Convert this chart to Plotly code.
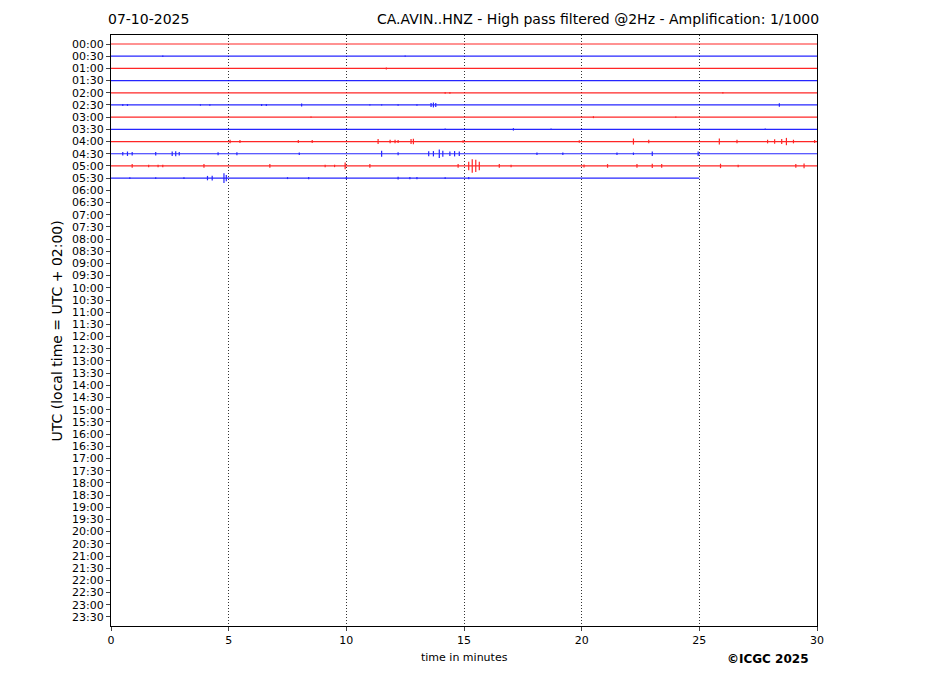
import plotly.graph_objects as go

# ---- data ----
row_labels = [f"{h:02d}:{m:02d}" for h in range(24) for m in (0, 30)]
row_colors = ["red" if i % 2 == 0 else "blue" for i in range(48)]
row_end = [30, 30, 30, 30, 30, 30, 30, 30, 30, 30, 30, 25.0]  # minutes recorded per row

# bursts per row: (minute, half amplitude in row units)
bursts = [
    [],
    [(2.2, 0.06), (12.5, 0.05)],
    [(11.7, 0.08)],
    [],
    [(14.2, 0.07), (14.4, 0.07), (26.0, 0.06)],
    [(0.5, 0.08), (0.7, 0.08), (3.8, 0.06), (4.2, 0.06), (6.4, 0.08), (6.6, 0.08), (8.1, 0.12),
     (11.0, 0.05), (11.5, 0.05), (12.2, 0.06), (13.0, 0.06), (13.6, 0.16), (13.7, 0.2),
     (13.8, 0.16), (28.4, 0.15)],
    [(8.5, 0.05), (20.5, 0.08), (24.0, 0.05)],
    [(14.2, 0.06), (17.1, 0.1), (18.7, 0.06), (27.8, 0.06)],
    [(5.06, 0.15), (5.48, 0.12), (7.96, 0.12), (8.55, 0.12), (11.35, 0.2), (11.86, 0.15),
     (12.07, 0.15), (12.2, 0.12), (12.75, 0.2), (12.85, 0.22), (14.96, 0.1), (19.9, 0.1),
     (22.2, 0.25), (22.85, 0.15), (25.85, 0.25), (26.6, 0.15), (27.9, 0.15), (28.2, 0.18),
     (28.5, 0.2), (28.7, 0.3), (29.0, 0.15), (29.9, 0.12)],
    [(0.5, 0.15), (0.7, 0.18), (0.9, 0.15), (1.9, 0.15), (2.6, 0.18), (2.75, 0.2), (2.9, 0.15),
     (4.55, 0.12), (5.35, 0.12), (8.0, 0.1), (11.5, 0.25), (12.2, 0.12), (13.5, 0.2),
     (13.7, 0.22), (13.95, 0.35), (14.1, 0.25), (14.4, 0.18), (14.6, 0.22), (14.8, 0.18),
     (18.1, 0.1), (19.2, 0.1), (21.5, 0.1), (22.2, 0.1), (23.0, 0.18), (24.95, 0.18)],
    [(0.9, 0.15), (1.6, 0.1), (2.0, 0.1), (2.2, 0.1), (3.95, 0.15), (6.75, 0.15), (9.1, 0.1),
     (9.5, 0.1), (9.95, 0.28), (11.0, 0.15), (14.75, 0.15), (15.2, 0.35), (15.35, 0.55),
     (15.5, 0.5), (15.65, 0.35), (16.5, 0.15), (17.0, 0.1), (20.1, 0.12), (21.1, 0.15),
     (22.35, 0.15), (23.0, 0.18), (23.4, 0.15), (25.9, 0.18), (26.65, 0.1), (29.1, 0.15),
     (29.45, 0.2)],
    [(0.8, 0.08), (1.9, 0.08), (3.1, 0.08), (4.1, 0.18), (4.3, 0.2), (4.8, 0.4), (4.9, 0.25),
     (7.5, 0.08), (8.4, 0.1), (10.0, 0.1), (12.2, 0.12), (12.7, 0.1), (13.0, 0.1), (14.2, 0.08),
     (15.2, 0.1)],
]
x_ticks = [0, 5, 10, 15, 20, 25, 30]

fig = go.Figure()
for r, end in enumerate(row_end):
    col = "#ff0000" if row_colors[r] == "red" else "#0000ff"
    xs, ys = [0, end, None], [r, r, None]
    for t, a in bursts[r]:
        xs += [t, t, None]
        ys += [r - a, r + a, None]
    fig.add_trace(go.Scatter(x=xs, y=ys, mode="lines", line=dict(color=col, width=1.2),
                             opacity=0.85, hoverinfo="skip", showlegend=False))

fig.update_layout(
    width=927, height=696,
    margin=dict(l=103, r=118, t=27, b=78),
    paper_bgcolor="white", plot_bgcolor="white",
    font=dict(family="DejaVu Sans", color="black", size=11),
    xaxis=dict(range=[0, 30], tickvals=x_ticks, ticks="outside", ticklen=4,
               showgrid=True, gridcolor="#333", griddash="1px,2px", gridwidth=0.8,
               showline=True, linecolor="black", linewidth=1, mirror=True, zeroline=False,
               tickfont=dict(size=11)),
    yaxis=dict(range=[47.74, -0.74], tickvals=list(range(48)), ticktext=row_labels,
               ticks="outside", ticklen=4, showgrid=False, zeroline=False,
               showline=True, linecolor="black", linewidth=1, mirror=True,
               tickfont=dict(size=11)),
)

ann = [
    dict(text="07-10-2025", x=0, xanchor="left", xshift=-5, y=1, yanchor="bottom", yshift=6, size=14),
    dict(text="CA.AVIN..HNZ - High pass filtered @2Hz - Amplification: 1/1000", x=1, xanchor="right", xshift=4,
         y=1, yanchor="bottom", yshift=6, size=14),
    dict(text="time in minutes", x=0.5, xanchor="center", y=0, yanchor="top", yshift=-23, size=11),
    dict(text="<b>©ICGC 2025</b>", x=0.9915, xanchor="right", y=0, yanchor="top", yshift=-24, size=12),
]
for a in ann:
    fig.add_annotation(text=a["text"], xref="paper", yref="paper", x=a["x"], y=a["y"],
                       xanchor=a["xanchor"], yanchor=a["yanchor"], xshift=a.get("xshift", 0),
                       yshift=a["yshift"], showarrow=False, font=dict(size=a["size"]))
fig.add_annotation(text="UTC (local time = UTC + 02:00)", xref="paper", yref="paper",
                   x=-0.0765, y=0.5, xanchor="center", yanchor="middle", textangle=-90,
                   showarrow=False, font=dict(size=14))

fig.write_html("out.html")
